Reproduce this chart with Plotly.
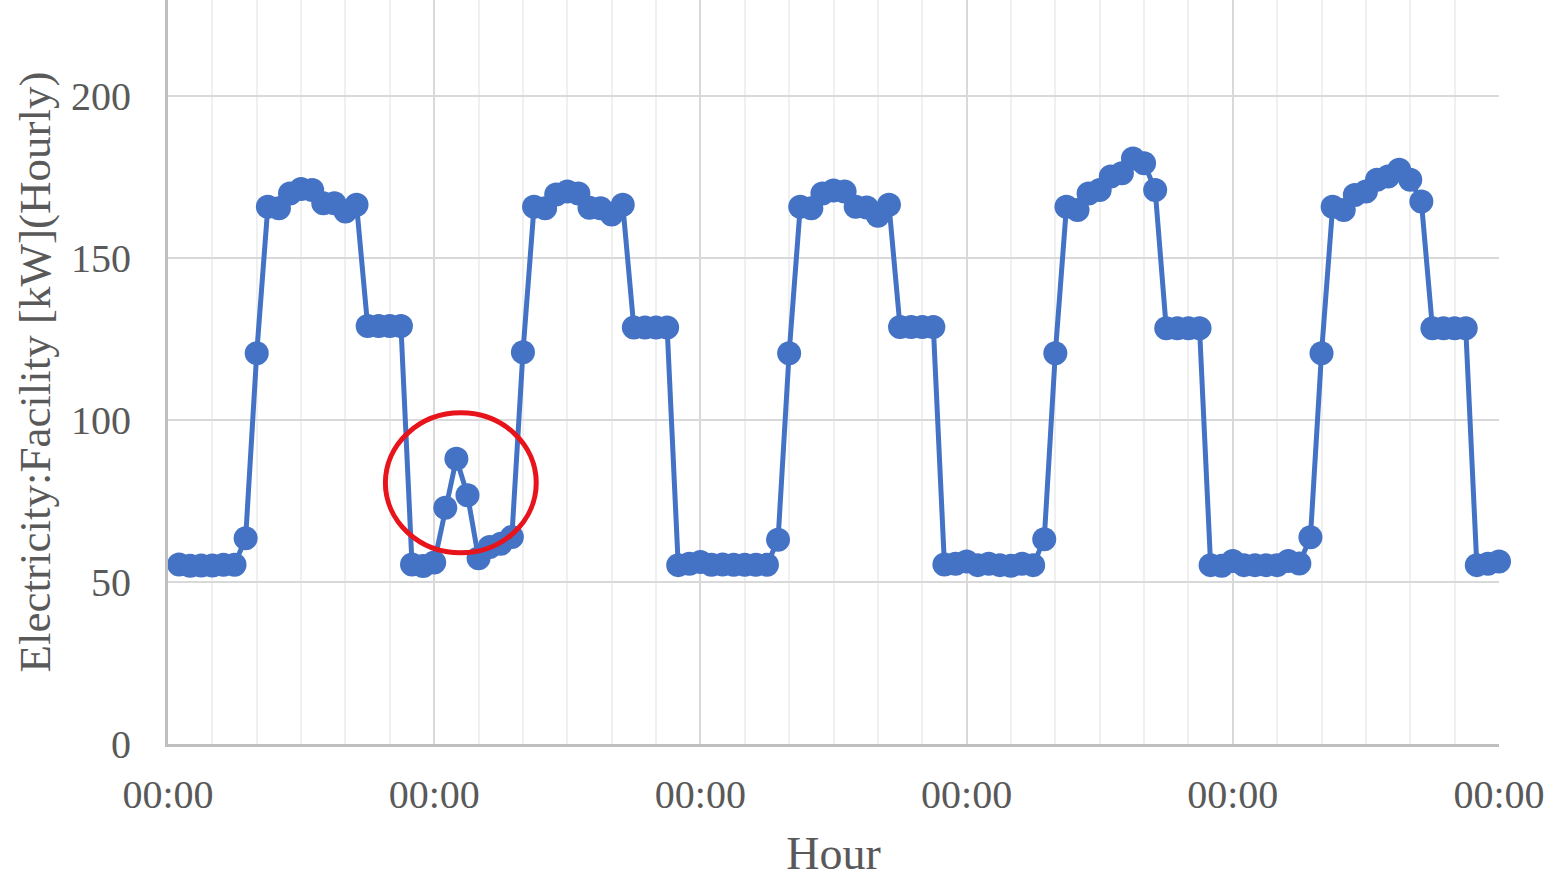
import plotly.graph_objects as go

# hourly facility electricity, 5 days (hour 1 .. hour 120)
day1 = [55.4, 55.0, 55.1, 55.1, 55.3, 55.3, 63.5, 120.6, 165.8, 165.3, 169.9, 171.3,
        171.0, 166.9, 166.9, 164.3, 166.4, 129.0, 129.0, 129.0, 129.0, 55.4, 54.9, 56.0]
day2 = [72.9, 88.0, 76.8, 57.3, 60.8, 61.8, 63.9, 120.9, 165.8, 165.3, 169.6, 170.5,
        169.9, 165.5, 165.3, 163.4, 166.4, 128.5, 128.5, 128.5, 128.5, 55.2, 55.6, 56.2]
day3 = [55.3, 55.4, 55.3, 55.3, 55.3, 55.3, 63.0, 120.6, 165.8, 165.3, 169.9, 170.8,
        170.5, 165.8, 165.6, 163.0, 166.4, 128.7, 128.7, 128.7, 128.7, 55.4, 55.6, 56.3]
day4 = [55.2, 55.6, 55.2, 55.0, 55.6, 55.2, 63.2, 120.6, 165.8, 164.8, 169.9, 171.0,
        175.1, 176.1, 180.7, 179.2, 171.0, 128.3, 128.3, 128.3, 128.3, 55.2, 55.0, 56.5]
day5 = [55.2, 55.2, 55.2, 55.2, 56.5, 55.7, 63.8, 120.6, 165.8, 164.8, 169.4, 170.5,
        174.1, 175.1, 177.2, 174.1, 167.4, 128.3, 128.3, 128.3, 128.3, 55.2, 55.6, 56.3]

values = day1 + day2 + day3 + day4 + day5
hours = list(range(1, len(values) + 1))

day_ticks = [0, 24, 48, 72, 96, 120]
day_labels = ["00:00"] * len(day_ticks)

font_family = "Liberation Serif, Times New Roman, serif"
text_color = "#595959"

fig = go.Figure()
fig.add_trace(go.Scatter(
    x=hours, y=values, mode="lines+markers",
    line=dict(color="#4472C4", width=5),
    marker=dict(color="#4472C4", size=24),
    cliponaxis=False,
    showlegend=False,
))

# red highlight circle around the night-time spike on day 2
fig.add_shape(type="circle", xref="x", yref="y",
              x0=19.6, x1=33.2, y0=59.0, y1=102.2,
              line=dict(color="#E8141C", width=5))

fig.update_xaxes(
    range=[0, 120],
    tickvals=day_ticks, ticktext=day_labels,
    showgrid=True, gridcolor="#d9d9d9", gridwidth=2,
    minor=dict(dtick=4, tick0=0, showgrid=True, gridcolor="#f0f0f0", gridwidth=2),
    showline=True, linecolor="#bfbfbf", linewidth=3,
    zeroline=False, ticks="", automargin=False,
    tickfont=dict(family=font_family, size=40, color=text_color),
    ticklabelstandoff=13,
    title=dict(text="Hour", font=dict(family=font_family, size=46, color=text_color),
               standoff=29),
)
fig.update_yaxes(
    range=[0, 229.6],
    tickvals=[0, 50, 100, 150, 200],
    showgrid=True, gridcolor="#d9d9d9", gridwidth=2,
    showline=True, linecolor="#bfbfbf", linewidth=3,
    zeroline=False, ticks="", automargin=False,
    tickfont=dict(family=font_family, size=40, color=text_color),
    ticklabelstandoff=26,
    title=dict(text="Electricity:Facility [kW](Hourly)",
               font=dict(family=font_family, size=45, color=text_color),
               standoff=7),
)
fig.update_layout(
    width=1565, height=879,
    margin=dict(l=168, r=66, t=0, b=135),
    plot_bgcolor="white", paper_bgcolor="white",
)

# drop the browser's default page margin so the figure sits at the top-left corner
fig.write_html("out.html", config={"displayModeBar": False},
               post_script="document.body.style.margin = '0';")
